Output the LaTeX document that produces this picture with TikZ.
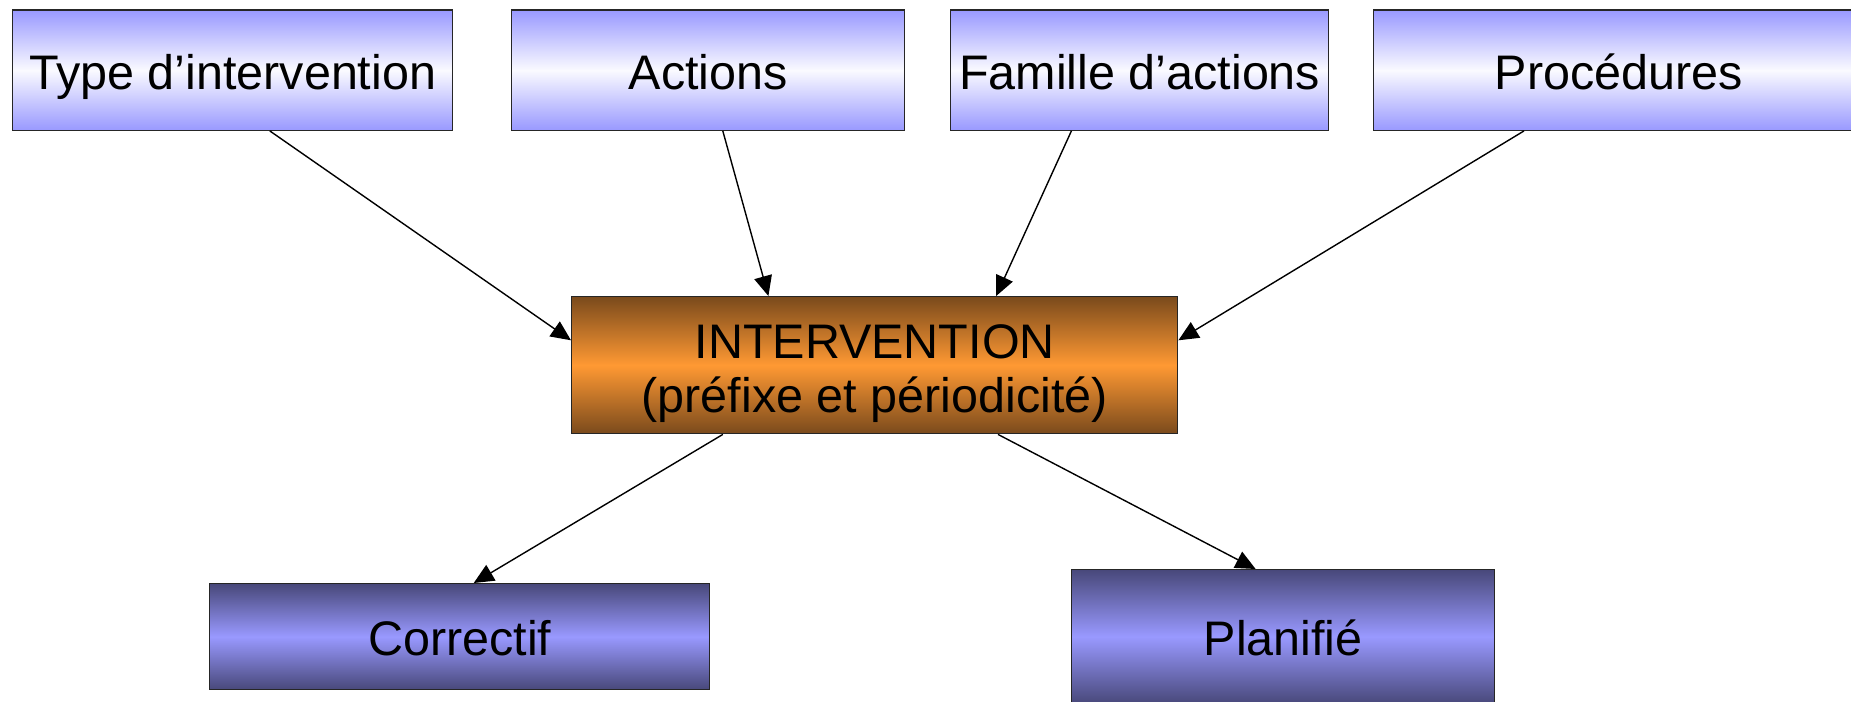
\documentclass[tikz,border=0pt]{standalone}
\usepackage{fontspec}
\setmainfont{Liberation Sans}
\usetikzlibrary{arrows.meta,calc}
\definecolor{lav}{RGB}{153,153,255}
\definecolor{lavlight}{RGB}{250,250,255}
\definecolor{brn}{RGB}{122,74,28}
\definecolor{org}{RGB}{255,153,51}
\definecolor{navy}{RGB}{72,72,122}
\begin{document}
\begin{tikzpicture}[x=1pt,y=1pt,
  box/.style={draw=black!85, line width=1.4pt, inner sep=0pt, anchor=north west,
    font=\fontsize{48.5}{54}\selectfont, align=center},
  oneline/.style={text height=44pt, text depth=6pt},
  topbox/.style={box, oneline, top color=lav, bottom color=lav, middle color=lavlight,
    minimum height=120pt},
  midbox/.style={box, top color=brn, bottom color=brn, middle color=org},
  lowbox/.style={box, oneline, top color=navy, bottom color=navy, middle color=lav},
  arr/.style={line width=1.4pt, -{Triangle[length=20pt,width=18pt]}}]
\clip (0,0) rectangle (1851,-701);
\fill[white] (0,0) rectangle (1851,-701);

% source boxes
\node[topbox, minimum width=440pt] (b1) at (12,-9.5) {Type d’intervention};
\node[topbox, minimum width=393pt] (b2) at (511,-9.5) {Actions};
\node[topbox, minimum width=378pt] (b3) at (950,-9.5) {Famille d’actions};
\node[topbox, minimum width=490pt] (b4) at (1373,-9.5) {Procédures};

% central box
\node[midbox, minimum width=606pt, minimum height=137pt, text height=100pt, text depth=5pt]
  (c) at (571,-296) {INTERVENTION\\(préfixe et périodicité)};

% result boxes
\node[lowbox, minimum width=500pt, minimum height=106pt] (k) at (209,-583) {Correctif};
\node[lowbox, minimum width=423pt, minimum height=134pt] (p) at (1071,-569) {Planifié};

% connectors
\draw[arr] ($(b1.south west)!0.584!(b1.south east)$) -- ($(c.north west)!0.32!(c.south west)$);
\draw[arr] ($(b2.south west)!0.537!(b2.south east)$) -- ($(c.north west)!0.325!(c.north east)$);
\draw[arr] ($(b3.south west)!0.32!(b3.south east)$) -- ($(c.north west)!0.70!(c.north east)$);
\draw[arr] ($(b4.south west)+(151,0)$) -- ($(c.north east)!0.32!(c.south east)$);
\draw[arr] ($(c.south west)!0.25!(c.south east)$) -- ($(k.north west)!0.528!(k.north east)$);
\draw[arr] ($(c.south west)!0.703!(c.south east)$) -- ($(p.north west)!0.435!(p.north east)$);
\end{tikzpicture}
\end{document}
